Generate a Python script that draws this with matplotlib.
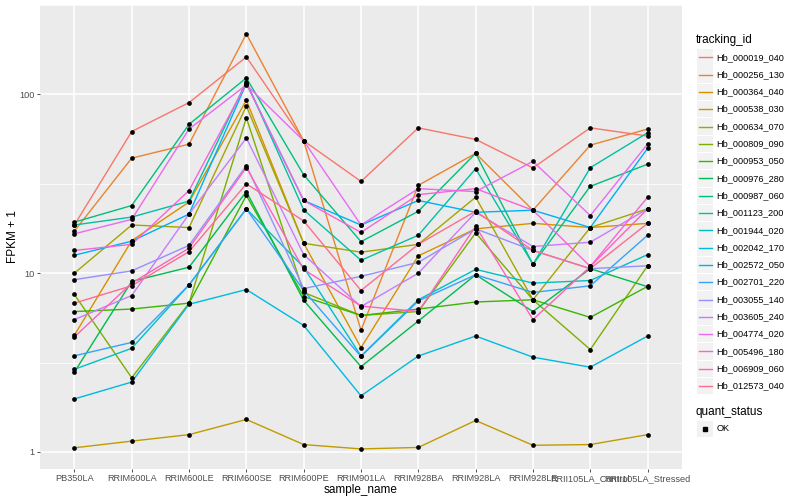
import numpy as np
import matplotlib.pyplot as plt
from matplotlib.lines import Line2D
from matplotlib.patches import Rectangle

plt.rcParams['font.family'] = ['Liberation Sans', 'DejaVu Sans']

samples = ['PB350LA', 'RRIM600LA', 'RRIM600LE', 'RRIM600SE', 'RRIM600PE', 'RRIM901LA',
           'RRIM928BA', 'RRIM928LA', 'RRIM928LE', 'RRII105LA_Control', 'RRII105LA_Stressed']

genes = ['Hb_000019_040', 'Hb_000256_130', 'Hb_000364_040', 'Hb_000538_030', 'Hb_000634_070',
         'Hb_000809_090', 'Hb_000953_050', 'Hb_000976_280', 'Hb_000987_060', 'Hb_001123_200',
         'Hb_001944_020', 'Hb_002042_170', 'Hb_002572_050', 'Hb_002701_220', 'Hb_003055_140',
         'Hb_003605_240', 'Hb_004774_020', 'Hb_005496_180', 'Hb_006909_060', 'Hb_012573_040']

# FPKM + 1, one row per gene, one value per sample
fpkm = [
    [18.6, 62, 90, 162, 55, 32.6, 65, 56, 38.8, 65, 58.5],
    [17.2, 44, 52.7, 218, 55, 4.8, 31, 46.8, 22.5, 52, 64],
    [4.5, 15.2, 25, 92.7, 14.7, 3.83, 12.5, 17.7, 19, 18, 19],
    [1.055, 1.15, 1.25, 1.52, 1.1, 1.04, 1.06, 1.5, 1.09, 1.1, 1.25],
    [10, 18.6, 18, 86, 14.7, 13.1, 14.5, 26.6, 7.1, 18, 22.9],
    [7.6, 2.6, 6.8, 74, 7.8, 5.8, 6.1, 16.8, 7.1, 3.74, 11],
    [6.1, 6.3, 6.8, 27.2, 7.4, 5.8, 6.3, 6.9, 7.1, 5.66, 8.44],
    [2.8, 9, 10.8, 28.6, 7.05, 3.0, 5.4, 9.8, 6.1, 10.6, 8.4],
    [19.3, 23.9, 68, 123.6, 35.5, 15, 22.2, 46.8, 11.2, 30.6, 40.7],
    [18.6, 20.6, 25.3, 118, 22.6, 11.8, 16.3, 38.4, 11.2, 38.9, 61],
    [2.9, 3.8, 8.6, 22.9, 10.8, 3.44, 7.1, 10.5, 8.8, 9.1, 12.7],
    [1.98, 2.46, 6.7, 8.1, 5.1, 2.06, 3.44, 4.45, 3.39, 2.98, 4.45],
    [12.6, 15.1, 21.4, 115, 25.5, 18.6, 25.5, 21.9, 22.5, 18, 49.9],
    [3.45, 4.1, 8.6, 22.9, 8.0, 3.42, 7.0, 9.8, 7.8, 8.5, 16.3],
    [9.2, 10.3, 14.3, 40, 8.2, 9.6, 11.5, 17.7, 13.4, 10.6, 11],
    [5.5, 7.5, 21.4, 57, 12.7, 6.5, 10, 21.9, 14.1, 14.9, 22.9],
    [16.6, 20, 64, 113, 55, 18.6, 29.7, 28.6, 42.2, 21, 52.8],
    [13.4, 14.5, 29, 115, 25.5, 16.9, 27.5, 29.7, 22.5, 10.9, 26.6],
    [4.4, 8.8, 13.8, 39, 10.5, 6.55, 6.1, 18.3, 5.5, 10.9, 22.9],
    [6.8, 8.5, 13.2, 31.6, 19.6, 8.0, 14.5, 22.2, 13.4, 10.6, 19],
]

# ggplot default hue palette for 20 groups
colors = ['#F8766D', '#EA8331', '#D89000', '#C09B00', '#A3A500', '#7CAE00', '#39B600',
          '#00BB4E', '#00BF7D', '#00C1A3', '#00BFC4', '#00BAE0', '#00B0F6', '#35A2FF',
          '#9590FF', '#C77CFF', '#E76BF3', '#FA62DB', '#FF62BC', '#FF6C91']

W, H = 800, 500
fig = plt.figure(figsize=(8, 5), dpi=100)
# panel in pixels: x 40..682, y 5..469
ax = fig.add_axes([40 / W, 1 - 469 / H, 642 / W, 464 / H])
ax.set_facecolor('#EBEBEB')
for s in ax.spines.values():
    s.set_visible(False)

x = np.arange(len(samples))
for vals, c in zip(fpkm, colors):
    ax.plot(x, vals, color=c, lw=1.0, zorder=3)
for vals in fpkm:
    ax.plot(x, vals, 'o', color='black', ms=3.4, zorder=4, mew=0)

ax.set_yscale('log')
ax.set_ylim(0.803, 289)
ax.set_xlim(-0.6, len(samples) - 0.4)
ax.set_yticks([1, 10, 100])
ax.set_yticklabels(['1', '10', '100'])
ax.set_yticks([10 ** 0.5, 10 ** 1.5, 10 ** 2.5], minor=True)
ax.set_xticks(x)
ax.set_xticklabels(samples)
ax.grid(True, which='major', color='white', lw=1.1, zorder=1)
ax.grid(True, which='minor', axis='y', color='white', lw=0.55, zorder=1)
ax.set_axisbelow(True)
ax.tick_params(which='major', length=2.5, width=0.6, color='#333333', labelsize=6.6,
               labelcolor='#4D4D4D', pad=1.2)
ax.tick_params(which='minor', length=0)
ax.set_xlabel('sample_name', fontsize=8.5)
ax.set_ylabel('FPKM + 1', fontsize=8.5)
ax.xaxis.set_label_coords(0.5, -(490 - 469) / 464, transform=ax.transAxes)
ax.xaxis.label.set_va('center')
ax.yaxis.set_label_coords(-(40 - 13) / 642, 0.5)
ax.yaxis.label.set_va('center')


def px(xp, yp):
    return xp / W, 1 - yp / H


# legend: tracking_id
fig.text(*px(696, 40.5), 'tracking_id', fontsize=8.5, va='center', ha='left')
for i, (g, c) in enumerate(zip(genes, colors)):
    yc = 57.3 + i * 17.3
    x0, y0 = px(697, yc + 8.2)
    fig.add_artist(Rectangle((x0, y0), 16 / W, 16.4 / H, transform=fig.transFigure,
                             facecolor='#F2F2F2', edgecolor='none'))
    xa, ya = px(698.5, yc)
    xb, _ = px(711.5, yc)
    fig.add_artist(Line2D([xa, xb], [ya, ya], transform=fig.transFigure, color=c, lw=1.0))
    fig.text(*px(716.5, yc), g, fontsize=6.6, va='center', ha='left')

# legend: quant_status
fig.text(*px(696, 412), 'quant_status', fontsize=8.5, va='center', ha='left')
x0, y0 = px(697, 428.7 + 8.2)
fig.add_artist(Rectangle((x0, y0), 16 / W, 16.4 / H, transform=fig.transFigure,
                         facecolor='#F2F2F2', edgecolor='none'))
fig.add_artist(Line2D([px(705, 0)[0]], [px(0, 428.7)[1]], transform=fig.transFigure,
                      marker='s', ms=2.6, color='black', lw=0))
fig.text(*px(716.5, 428.7), 'OK', fontsize=6.6, va='center', ha='left')

fig.savefig('out.png', dpi=100)
